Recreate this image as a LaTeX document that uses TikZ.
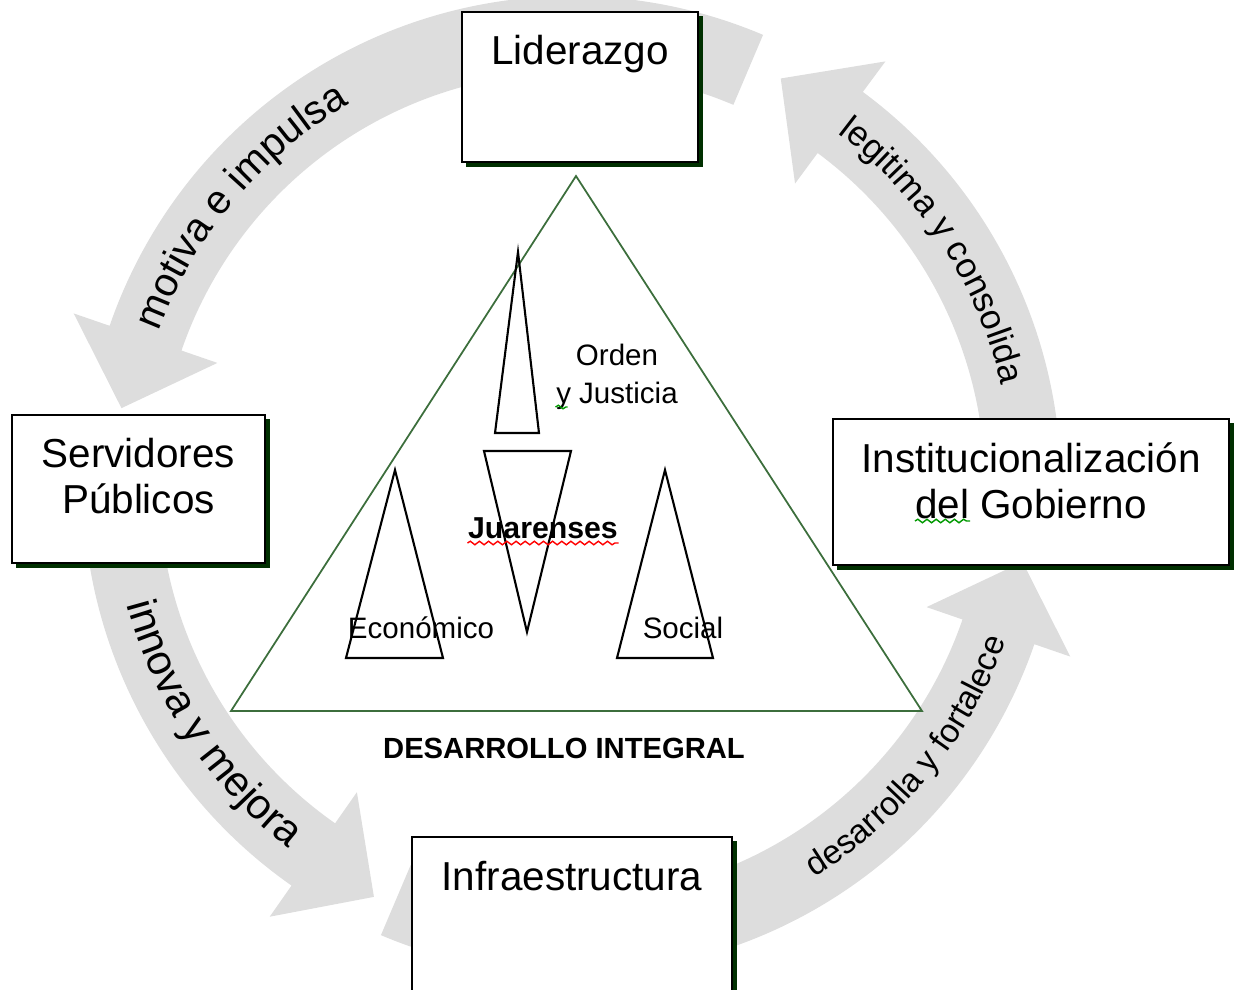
\documentclass[tikz,border=0pt]{standalone}
\usepackage{fontspec}
\setmainfont{Liberation Sans}
\usetikzlibrary{positioning,calc,shadows,decorations.text,decorations.pathmorphing}
\definecolor{bandgray}{RGB}{221,221,221}
\definecolor{shadowgreen}{RGB}{0,48,0}
\definecolor{linegreen}{RGB}{60,110,60}

\begin{document}
\begin{tikzpicture}
  [x=0.01cm,y=0.01cm,
   box/.style={draw, fill=white, line width=0.6pt, inner sep=0pt,
     drop shadow={shadow xshift=0.045cm, shadow yshift=-0.045cm, fill=shadowgreen, opacity=1}},
   boxtext/.style={inner sep=0pt, align=center, font=\fontsize{11.5}{13}\selectfont},
   small/.style={inner sep=0pt, anchor=base, font=\fontsize{8.4}{10}\selectfont},
   cone/.style={draw, line width=0.6pt},
   squiggle/.style={line width=0.4pt, decorate, decoration={snake, amplitude=0.5pt, segment length=2.6pt}}]
  \useasboundingbox (0,0) rectangle (1235,-990);
  \coordinate (c) at (572,-485);

  % grey curved arrows round the cycle
  \foreach \st/\en in {67/161, 174/235, 247/341, -6/53.5}
    \fill[bandgray] ($(c)+(\st:489)$) arc[start angle=\st, end angle=\en, radius=489]
      -- ($(c)+(\en:527)$) -- ($(c)+(\en:451)+(\en+90:74)$) -- ($(c)+(\en:375)$)
      -- ($(c)+(\en:413)$) arc[start angle=\en, end angle=\st, radius=413] -- cycle;

  \path[decorate, decoration={text along path, text align=center,
      text={|\fontsize{11.5}{13}\selectfont|motiva e impulsa}}]
    ($(c)+(180:441)$) arc[start angle=180, end angle=100, radius=441];
  \path[decorate, decoration={text along path, text align=center,
      text={|\fontsize{10}{12}\selectfont|legitima y consolida}}]
    ($(c)+(73:441)$) arc[start angle=73, end angle=-7, radius=441];
  \path[decorate, decoration={text along path, text align=center,
      text={|\fontsize{12}{14}\selectfont|innova y mejora}}]
    ($(c)+(173.5:461)$) arc[start angle=173.5, end angle=253.5, radius=461];
  \path[decorate, decoration={text along path, text align=center,
      text={|\fontsize{9.5}{11}\selectfont|desarrolla y fortalece}}]
    ($(c)+(281:461)$) arc[start angle=281, end angle=361, radius=461];

  % central triangle
  \draw[linegreen, line width=0.5pt] (576,-176) -- (922,-711) -- (231,-711) -- cycle;
  \draw[cone] (518,-252) -- (539,-433) -- (495,-433) -- cycle;
  \draw[cone] (484,-451) -- (571,-451) -- (527,-632) -- cycle;
  \draw[cone] (395,-470) -- (443,-658) -- (346,-658) -- cycle;
  \draw[cone] (665,-470) -- (713,-658) -- (617,-658) -- cycle;

  \node[small] (orden) at (617,-365) {Orden};
  \node[small] (just) at (617,-403) {y Justicia};
  \node[small, font=\fontsize{8.6}{10}\selectfont\bfseries] (jua) at (543,-538) {Juarenses};
  \node[small] (eco) at (421,-638) {Económico};
  \node[small] (soc) at (683,-638) {Social};
  \node[small, font=\fontsize{8.3}{10}\selectfont\bfseries] (desint) at (564,-758) {DESARROLLO INTEGRAL};

  % boxes
  \node[box, minimum width=2.36cm, minimum height=1.50cm] (lid) at (580,-87) {};
  \node[box, minimum width=2.53cm, minimum height=1.48cm] (serv) at (138.5,-489) {};
  \node[box, minimum width=3.96cm, minimum height=1.46cm] (inst) at (1031,-492) {};
  \node[box, minimum width=3.20cm, minimum height=1.63cm] (infra) at (572,-918.5) {};

  \node[boxtext, below=0.24cm of lid.north] (lidtext) {Liderazgo};
  \node[boxtext, below=0.24cm of serv.north] (servtext) {Servidores\\Públicos};
  \node[boxtext, below=0.24cm of inst.north] (insttext) {Institucionalización\\del Gobierno};
  \node[boxtext, below=0.25cm of infra.north] (infratext) {Infraestructura};

  % spell-check marks
  \draw[squiggle, red] ($(jua.base west)+(0,-5)$) -- ($(jua.base east)+(0,-5)$);
  \draw[squiggle, green!60!black] ($(just.base west)+(0,-4)$) -- ++(12,0);
  \draw[squiggle, green!60!black] (915,-521) -- (970,-521);
\end{tikzpicture}
\end{document}
